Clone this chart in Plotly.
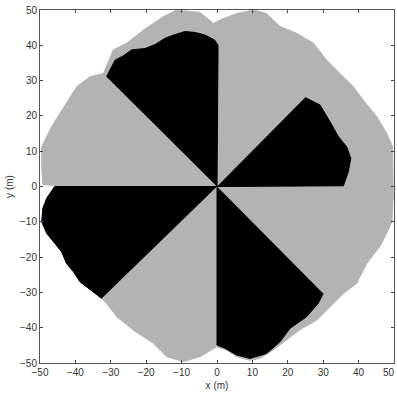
import plotly.graph_objects as go

# Outer boundary of the grey (full) region (m)
grey_x = [49.8, 49.8, 49.6, 47.9, 45.1, 41.3, 38.5, 34.7, 31.0, 27.2, 22.5, 17.8, 14.0, 10.3, 5.6, 0.9, -1.0,
          -4.8, -11.4, -15.2, -20.8, -25.5, -29.3, -32.1, -35.9, -39.6, -44.4, -46.7, -49.5, -49.5, -49.2,
          -45.8, -48.1, -49.2, -49.5, -48.1, -45.8, -43.9, -42.5, -40.6, -38.7, -36.4, -32.6,
          -31.2, -28.3, -23.6, -18.0, -14.2, -9.5, -4.8, -0.1, 2.7, 5.6, 9.3, 12.1, 15.9, 19.7, 23.4,
          28.2, 31.9, 35.7, 39.5, 42.3, 46.0, 47.9, 49.6]
grey_y = [-3.8, 5.0, 11.3, 15.1, 19.8, 24.5, 28.3, 32.0, 35.8, 40.6, 43.4, 45.3, 49.0, 50.0, 49.0, 47.2, 46.2,
          49.3, 50.0, 48.1, 44.3, 40.6, 38.7, 32.0, 31.1, 28.3, 20.8, 17.0, 11.3, 5.0, 0.6,
          0.3, -3.3, -6.2, -10.0, -13.3, -16.1, -18.5, -21.8, -24.1, -27.0, -28.8, -31.7,
          -33.1, -36.9, -40.7, -44.4, -48.2, -49.6, -48.2, -45.4, -46.3, -48.2, -49.2, -48.7, -46.3, -43.5, -40.6,
          -37.8, -34.0, -30.3, -27.4, -21.8, -17.0, -13.3, -9.5]

# Black sectors (origin + outer edge) (m)
sectorA_x = [0, 0.3, -0.7, -3.4, -6.0, -9.0, -12.0, -14.7, -17.5, -20.3, -24.1, -26.5, -28.8, -31.2]
sectorA_y = [0, 40.0, 41.5, 42.9, 43.6, 43.9, 43.0, 42.0, 40.2, 39.1, 38.7, 37.0, 35.8, 31.1]
sectorB_x = [0, 35.7, 37.1, 37.8, 36.6, 34.3, 31.9, 29.1, 24.9]
sectorB_y = [0, 0.2, 4.2, 8.0, 11.3, 14.1, 18.4, 23.1, 25.2]
sectorC_x = [0, -45.8, -48.1, -49.2, -49.5, -48.1, -45.8, -43.9, -42.5, -40.6, -38.7, -36.4, -32.6]
sectorC_y = [0, 0.0, -3.3, -6.2, -10.0, -13.3, -16.1, -18.5, -21.8, -24.1, -27.0, -28.8, -31.7]
sectorD_x = [0, 0.0, 2.2, 5.5, 9.3, 14.0, 17.8, 20.6, 25.3, 28.6, 30.0]
sectorD_y = [0, -44.9, -45.8, -47.7, -48.7, -47.3, -44.0, -40.2, -36.9, -33.1, -30.3]

tick_vals = [-50, -40, -30, -20, -10, 0, 10, 20, 30, 40, 50]
x_label = "x (m)"
y_label = "y (m)"

GREY = "#b3b3b3"
BLACK = "#000000"
FONT = dict(family="Liberation Sans, Arial", size=10, color="#333")

fig = go.Figure()
fig.add_trace(go.Scatter(x=grey_x, y=grey_y, fill="toself", fillcolor=GREY, mode="lines",
                         line=dict(color=GREY, width=1), hoverinfo="skip"))
for sx, sy in [(sectorA_x, sectorA_y), (sectorB_x, sectorB_y), (sectorC_x, sectorC_y), (sectorD_x, sectorD_y)]:
    fig.add_trace(go.Scatter(x=sx, y=sy, fill="toself", fillcolor=BLACK, mode="lines",
                             line=dict(color=BLACK, width=1), hoverinfo="skip"))

axis_common = dict(
    range=[-50, 50], tickvals=tick_vals, ticks="inside", ticklen=3, tickcolor="#444",
    showgrid=False, zeroline=False, showline=True, linecolor="#555", linewidth=1,
    mirror="allticks", tickfont=FONT,
)

fig.update_layout(
    width=397, height=394,
    margin=dict(l=40, r=3, t=10, b=31),
    plot_bgcolor="white", paper_bgcolor="white",
    showlegend=False,
    xaxis=dict(**axis_common, title=dict(text=x_label, standoff=4, font=FONT)),
    yaxis=dict(**axis_common, title=dict(text=y_label, standoff=4, font=FONT)),
)

# the last x tick label sits at the right edge; keep it fully inside the page
fig.add_annotation(x=tick_vals[-1], y=0, xref="x", yref="paper", yanchor="top", yshift=-2,
                   xanchor="right", xshift=3,
                   text=str(tick_vals[-1]), showarrow=False, font=FONT)

fig.write_html("out.html", config={"displayModeBar": False},
               post_script="document.body.style.margin='0';document.body.style.overflow='hidden';")
